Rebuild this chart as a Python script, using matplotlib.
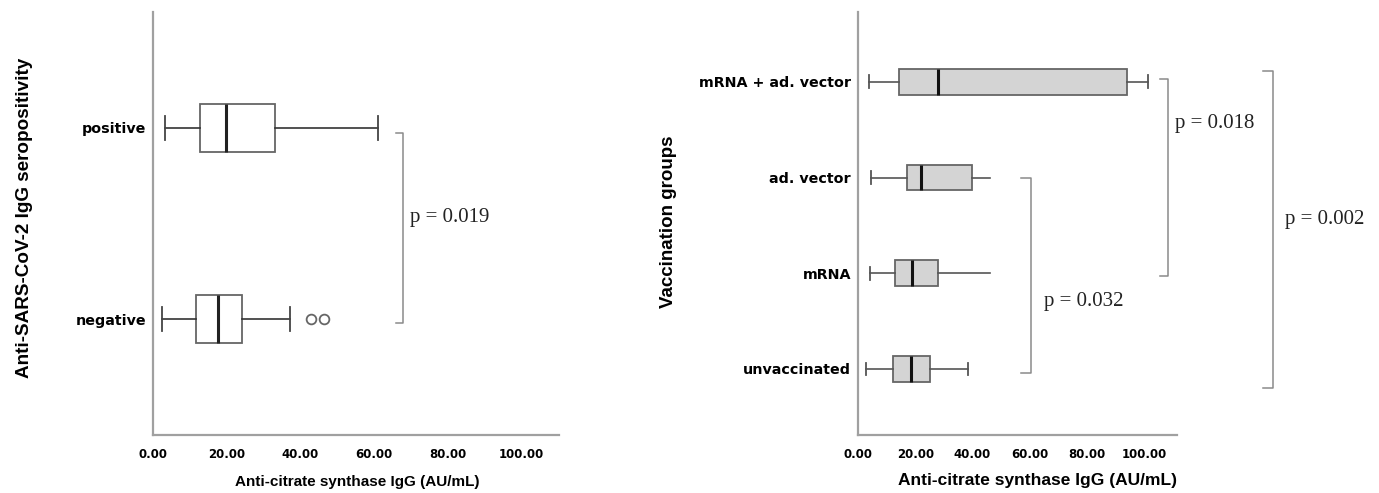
import matplotlib
matplotlib.use("Agg")
import matplotlib.pyplot as plt

# --- data (AU/mL) ---
sero_groups = ["negative", "positive"]
sero_whislo = [2.5, 3.2]
sero_q1 = [11.7, 12.8]
sero_med = [17.7, 19.8]
sero_q3 = [24.2, 33.1]
sero_whishi = [37.2, 61.1]
sero_fliers = [[42.8, 46.5], []]
sero_p = "p = 0.019"

vacc_groups = ["unvaccinated", "mRNA", "ad. vector", "mRNA + ad. vector"]
vacc_whislo = [2.7, 4.1, 4.5, 3.8]
vacc_q1 = [12.3, 12.8, 17.1, 14.5]
vacc_med = [18.6, 18.8, 22.1, 28.1]
vacc_q3 = [25.1, 28.1, 39.7, 94.0]
vacc_whishi = [38.5, 46.3, 46.3, 101.3]
vacc_fliers = [[], [], [], []]
vacc_upper_cap = [True, False, False, True]
vacc_p = ["p = 0.032", "p = 0.018", "p = 0.002"]

xticks = [0, 20, 40, 60, 80, 100]
xlabel = "Anti-citrate synthase IgG (AU/mL)"

SANS = ["Liberation Sans", "DejaVu Sans"]
TICKFONT = "DejaVu Sans"
SERIF = ["Liberation Serif", "DejaVu Serif"]
SPINE = "#a0a0a0"
BRACKET = "#8a8a8a"


def make_stats(lo, q1, med, q3, hi, fl):
    return [dict(whislo=a, q1=b, med=c, q3=d, whishi=e, fliers=f)
            for a, b, c, d, e, f in zip(lo, q1, med, q3, hi, fl)]


def style_axis(ax, groups, xmax, ymin, ymax):
    ax.set_xlim(0, xmax)
    ax.set_ylim(ymin, ymax)
    for s in ["top", "right"]:
        ax.spines[s].set_visible(False)
    for s in ["left", "bottom"]:
        ax.spines[s].set_color(SPINE)
        ax.spines[s].set_linewidth(1.6)
    ax.set_xticks(xticks)
    ax.set_xticklabels([f"{t:.2f}" for t in xticks], fontfamily=TICKFONT,
                       fontweight="bold", fontsize=8.5)
    ax.set_yticks(range(1, len(groups) + 1))
    ax.set_yticklabels(groups, fontfamily=TICKFONT, fontweight="bold", fontsize=10.3)
    ax.tick_params(axis="both", length=0)
    ax.tick_params(axis="x", pad=9)
    ax.tick_params(axis="y", pad=5)


def bracket(ax, x, y0, y1, tick, label, tx, ty):
    ax.plot([x - tick, x, x, x - tick], [y1, y1, y0, y0], color=BRACKET,
            lw=1.1, clip_on=False)
    ax.text(tx, ty, label, fontfamily=SERIF, fontsize=15, ha="left",
            va="center", color="#222222", clip_on=False)


fig = plt.figure(figsize=(13.79, 4.93), dpi=100)

# left panel: seropositivity
ax1 = fig.add_axes([153 / 1379, 58 / 493, 406 / 1379, 423 / 493])
bp1 = ax1.bxp(make_stats(sero_whislo, sero_q1, sero_med, sero_q3, sero_whishi, sero_fliers),
              positions=[1, 2], widths=0.25, vert=False, patch_artist=True,
              boxprops=dict(facecolor="white", edgecolor="#666666", lw=1.3),
              whiskerprops=dict(color="#333333", lw=1.2),
              capprops=dict(color="#444444", lw=1.3),
              medianprops=dict(color="#222222", lw=2.2),
              flierprops=dict(marker="o", markersize=7, markerfacecolor="none",
                              markeredgecolor="#666666", markeredgewidth=1.3))
style_axis(ax1, sero_groups, 110.3, 0.393, 2.607)
ax1.set_xlabel(xlabel, fontfamily=SANS, fontweight="bold", fontsize=11)
ax1.xaxis.set_label_coords(0.502, -0.094)
ax1.set_ylabel("Anti-SARS-CoV-2 IgG seropositivity", fontfamily=SANS,
               fontweight="bold", fontsize=13.6)
ax1.yaxis.set_label_coords(-0.296, 0.513)
bracket(ax1, 67.9, 0.979, 1.974, 1.9, sero_p, 69.8, 1.534)

# right panel: vaccination groups
ax2 = fig.add_axes([858 / 1379, 58 / 493, 319 / 1379, 423 / 493])
bp2 = ax2.bxp(make_stats(vacc_whislo, vacc_q1, vacc_med, vacc_q3, vacc_whishi, vacc_fliers),
              positions=[1, 2, 3, 4], widths=0.27, vert=False, patch_artist=True,
              boxprops=dict(facecolor="#d4d4d4", edgecolor="#666666", lw=1.3),
              whiskerprops=dict(color="#555555", lw=1.2),
              capprops=dict(color="#555555", lw=1.3),
              medianprops=dict(color="#111111", lw=2.2))
for i, keep in enumerate(vacc_upper_cap):
    bp2["caps"][2 * i + 1].set_visible(keep)
style_axis(ax2, vacc_groups, 111.5, 0.31, 4.73)
ax2.set_xlabel(xlabel, fontfamily=SANS, fontweight="bold", fontsize=12.5)
ax2.xaxis.set_label_coords(0.563, -0.09)
ax2.set_ylabel("Vaccination groups", fontfamily=SANS, fontweight="bold", fontsize=13.5)
ax2.yaxis.set_label_coords(-0.567, 0.504)
bracket(ax2, 60.4, 0.958, 2.995, 3.3, vacc_p[0], 64.9, 1.70)
bracket(ax2, 108.3, 1.97, 4.03, 2.8, vacc_p[1], 110.9, 3.57)
bracket(ax2, 144.9, 0.80, 4.117, 3.4, vacc_p[2], 149.4, 2.557)

fig.savefig("out.png", dpi=100)
